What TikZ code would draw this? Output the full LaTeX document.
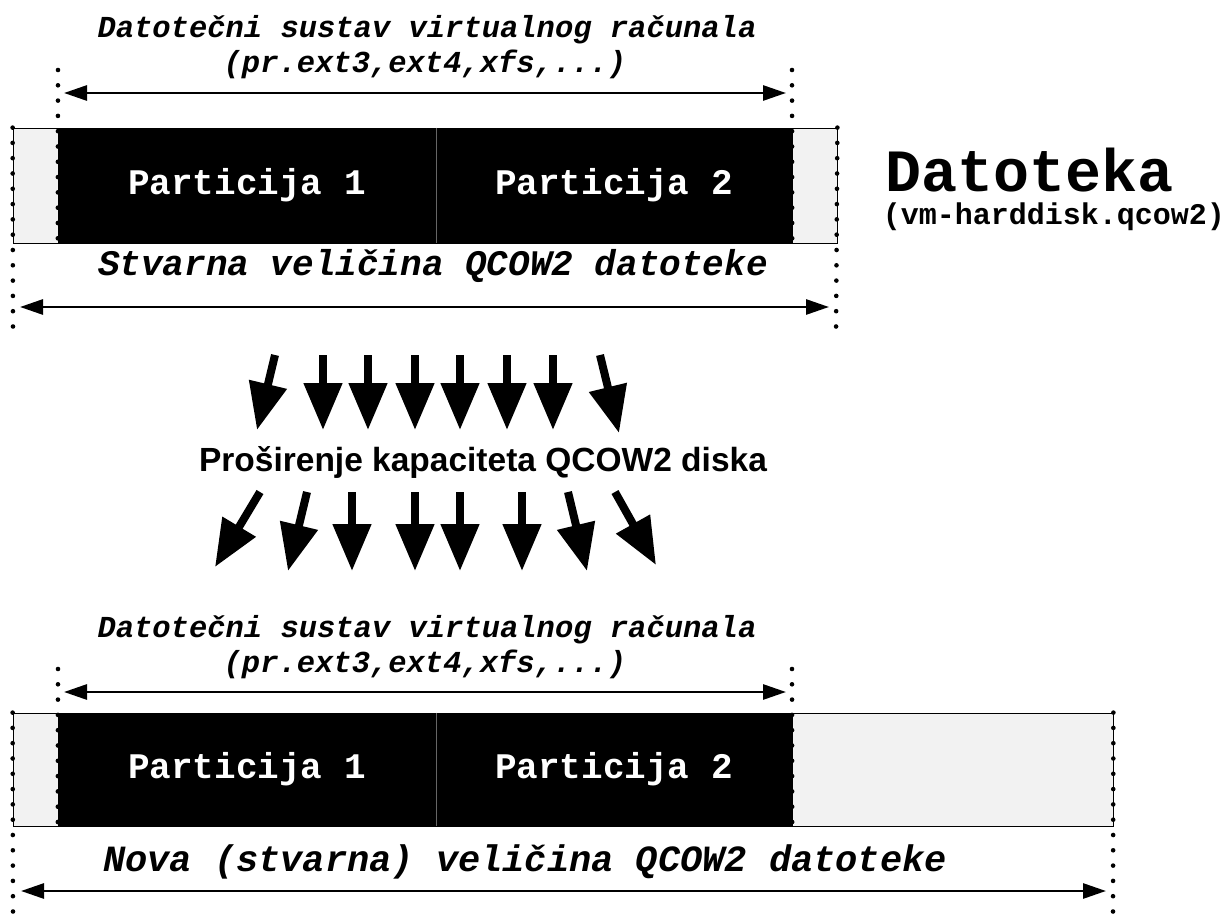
\documentclass[tikz,border=0pt]{standalone}
\usepackage{fontspec}
\setmonofont{Liberation Mono}
\newfontfamily\titlefont{Liberation Sans}
\usetikzlibrary{arrows.meta}
\definecolor{lightfill}{HTML}{F2F2F2}
\tikzset{
  partbox/.style={fill=black, draw=black, inner sep=0pt, text=white,
    font=\fontsize{36}{40}\selectfont\ttfamily\bfseries},
  sparebox/.style={fill=lightfill, draw=black, line width=0.8pt, inner sep=0pt},
  dotline/.style={line width=4.6pt, line cap=round, dash pattern=on 0pt off 15.3pt, black},
  dimarrow/.style={line width=2.8pt, {Triangle[length=23pt,width=15pt]}-{Triangle[length=23pt,width=15pt]}},
  blockarrow/.style={line width=8pt, -{Triangle[length=47pt,width=37pt]}},
  fslabel/.style={font=\fontsize{30.5}{34}\selectfont\ttfamily\bfseries\itshape, inner sep=0pt},
  sizelabel/.style={font=\fontsize{36}{40}\selectfont\ttfamily\bfseries\itshape, inner sep=0pt},
}
\begin{document}
\begin{tikzpicture}[x=1pt,y=-1pt]
\useasboundingbox (0,0) rectangle (1227,915);
\fill[white] (0,0) rectangle (1227,915);

% ---------- top part ----------
\node[fslabel] (fs1a) at (427,30) {Datotečni sustav virtualnog računala};
\node[fslabel] (fs1b) at (425,64) {(pr.ext3,ext4,xfs,...)};

\node[sparebox, minimum width=45pt, minimum height=115pt] (g1l) at (35.5,185.5) {};
\node[sparebox, minimum width=45pt, minimum height=115pt] (g1r) at (814.5,185.5) {};
\node[partbox, minimum width=378pt, minimum height=115pt] (p1a) at (247,185.5) {Particija 1};
\node[partbox, minimum width=356pt, minimum height=115pt] (p1b) at (614,185.5) {Particija 2};
\draw[black!60, line width=1pt] (p1a.north east) -- (p1a.south east);

\coordinate (d1tl) at (58,70);
\coordinate (d1tr) at (792,70);
\coordinate (d1bl) at (13,335);
\coordinate (d1br) at (836,335);
\draw[dotline] (d1tl) -- (p1a.south west);
\draw[dotline] (d1tr) -- (p1b.south east);
\draw[dotline] (g1l.north west) -- (d1bl);
\draw[dotline] (g1r.north east) -- (d1br);

\coordinate (a1l) at (64,93);
\coordinate (a1r) at (786,93);
\draw[dimarrow] (a1l) -- (a1r);
\coordinate (b1l) at (20,307);
\coordinate (b1r) at (829,307);
\draw[dimarrow] (b1l) -- (b1r);
\node[sizelabel] (sz1) at (433,266) {Stvarna veličina QCOW2 datoteke};

\node[font=\fontsize{60}{64}\selectfont\ttfamily\bfseries, inner sep=0pt] (dat) at (1030,170) {Datoteka};
\node[font=\fontsize{30}{34}\selectfont\ttfamily\bfseries, inner sep=0pt] (datf) at (1054,217) {(vm-harddisk.qcow2)};

% ---------- block arrows ----------
\draw[blockarrow] (275,355) -- (257,430);
\foreach \x in {323,368,415,460,507,553} \draw[blockarrow] (\x,355) -- (\x,430);
\draw[blockarrow] (600,355) -- (619,433);

\node[font=\fontsize{33.5}{38}\selectfont\titlefont\bfseries, inner sep=0pt] (title) at (483,462) {Proširenje kapaciteta QCOW2 diska};

\draw[blockarrow] (260,492) -- (215,567);
\draw[blockarrow] (307,492) -- (288,571);
\foreach \x in {352,415,460,522} \draw[blockarrow] (\x,492) -- (\x,571);
\draw[blockarrow] (568,492) -- (587,571);
\draw[blockarrow] (615,492) -- (656,565);

% ---------- bottom part ----------
\node[fslabel] (fs2a) at (427,630) {Datotečni sustav virtualnog računala};
\node[fslabel] (fs2b) at (425,664) {(pr.ext3,ext4,xfs,...)};

\node[sparebox, minimum width=45pt, minimum height=113pt] (g2l) at (35.5,769.5) {};
\node[sparebox, minimum width=321pt, minimum height=113pt] (g2r) at (952.5,769.5) {};
\node[partbox, minimum width=378pt, minimum height=113pt] (p2a) at (247,769.5) {Particija 1};
\node[partbox, minimum width=356pt, minimum height=113pt] (p2b) at (614,769.5) {Particija 2};
\draw[black!60, line width=1pt] (p2a.north east) -- (p2a.south east);

\coordinate (d2tl) at (58,669);
\coordinate (d2tr) at (792,669);
\coordinate (d2bl) at (13,915);
\coordinate (d2br) at (1113,915);
\draw[dotline] (d2tl) -- (p2a.south west);
\draw[dotline] (d2tr) -- (p2b.south east);
\draw[dotline] (g2l.north west) -- (d2bl);
\draw[dotline] (g2r.north east) -- (d2br);

\coordinate (a2l) at (64,692);
\coordinate (a2r) at (786,692);
\draw[dimarrow] (a2l) -- (a2r);
\coordinate (b2l) at (21,891);
\coordinate (b2r) at (1106,891);
\draw[dimarrow] (b2l) -- (b2r);
\node[sizelabel, font=\fontsize{37}{40}\selectfont\ttfamily\bfseries\itshape] (sz2) at (525,862) {Nova (stvarna) veličina QCOW2 datoteke};
\end{tikzpicture}
\end{document}
